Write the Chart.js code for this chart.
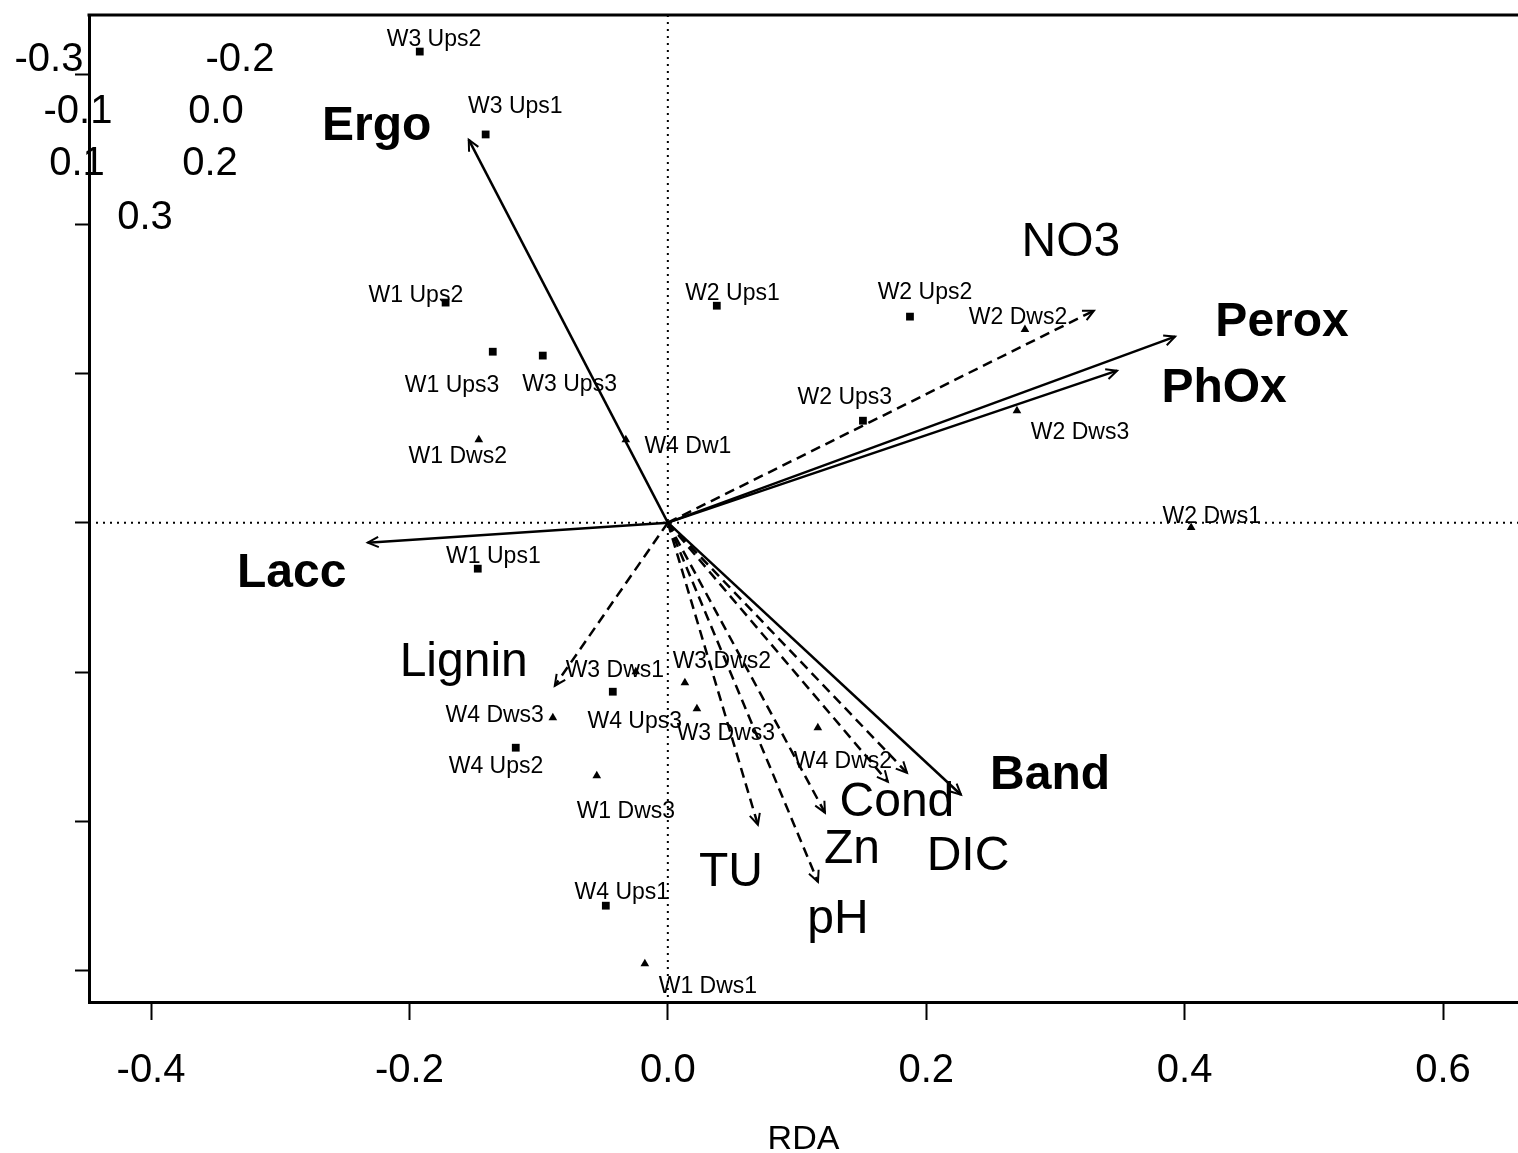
<!DOCTYPE html>
<html>
<head>
<meta charset="utf-8">
<title>RDA biplot</title>
<script src="https://cdn.jsdelivr.net/npm/chart.js@4/dist/chart.umd.min.js"></script>
<style>
  html, body { margin: 0; padding: 0; background: #fff; }
  #wrap { width: 1518px; height: 1153px; }
</style>
</head>
<body>
<div id="wrap"><canvas id="rda" width="1518" height="1153"></canvas></div>
<script>
// axis ticks
const xTicks = [-0.4, -0.2, 0.0, 0.2, 0.4, 0.6];
const yTicks = [-0.3, -0.2, -0.1, 0.0, 0.1, 0.2, 0.3];
const yTickLabels = ['-0.3', '-0.2', '-0.1', '0.0', '0.1', '0.2', '0.3'];

// site scores, upstream samples (squares)
const upsNames = ['W3 Ups2', 'W3 Ups1', 'W1 Ups2', 'W1 Ups3', 'W3 Ups3', 'W2 Ups1',
                  'W2 Ups2', 'W2 Ups3', 'W1 Ups1', 'W4 Ups3', 'W4 Ups2', 'W4 Ups1'];
const upsX = [-0.192, -0.141, -0.172, -0.1355, -0.0968, 0.0379,
              0.1874, 0.151, -0.1471, -0.0426, -0.1177, -0.048];
const upsY = [0.3155, 0.260, 0.1474, 0.1145, 0.1119, 0.1453,
              0.138, 0.0683, -0.0308, -0.1132, -0.1507, -0.2565];
const upsLabelX = [-0.181, -0.118, -0.195, -0.167, -0.076, 0.050,
                   0.199, 0.137, -0.135, -0.0256, -0.133, -0.0356];
const upsLabelY = [0.3235, 0.2786, 0.152, 0.0918, 0.0924, 0.1534,
                   0.154, 0.0837, -0.0228, -0.1333, -0.1634, -0.2478];

// site scores, downstream samples (triangles)
const dwsNames = ['W2 Dws2', 'W2 Dws3', 'W2 Dws1', 'W1 Dws2', 'W4 Dw1', 'W3 Dws1',
                  'W3 Dws2', 'W3 Dws3', 'W4 Dws3', 'W4 Dws2', 'W1 Dws3', 'W1 Dws1'];
const dwsX = [0.2764, 0.2702, 0.405, -0.1463, -0.0325, -0.0248,
              0.0132, 0.0225, -0.089, 0.1161, -0.055, -0.0178];
const dwsY = [0.1293, 0.075, -0.0033, 0.0556, 0.0556, -0.0998,
              -0.1072, -0.1246, -0.1306, -0.1373, -0.1695, -0.2954];
const dwsLabelX = [0.271, 0.319, 0.421, -0.1626, 0.0155, -0.041,
                   0.0418, 0.0449, -0.134, 0.1355, -0.0325, 0.031];
const dwsLabelY = [0.1373, 0.0603, 0.004, 0.0442, 0.0509, -0.0991,
                   -0.0931, -0.1413, -0.1293, -0.160, -0.1936, -0.3108];

// response variables (solid arrows, bold labels)
const respNames = ['Ergo', 'Perox', 'PhOx', 'Lacc', 'Band'];
const respX = [-0.1541, 0.3926, 0.3477, -0.2323, 0.2269];
const respY = [0.2565, 0.1246, 0.1018, -0.0134, -0.1822];
const respLabelX = [-0.2253, 0.4754, 0.4305, -0.2911, 0.2958];
const respLabelY = [0.2652, 0.134, 0.0898, -0.0342, -0.1695];

// environmental variables (dashed arrows)
const envNames = ['NO3', 'Lignin', 'TU', 'pH', 'Zn', 'Cond', 'DIC'];
const envX = [0.3298, -0.0875, 0.0697, 0.1162, 0.1216, 0.1703, 0.1851];
const envY = [0.142, -0.1092, -0.2023, -0.2405, -0.1942, -0.1735, -0.1675];
const envLabelX = [0.312, -0.158, 0.0488, 0.1316, 0.1425, 0.1773, 0.2323];
const envLabelY = [0.1875, -0.0938, -0.2344, -0.2659, -0.219, -0.1875, -0.2237];

const FONT = '"Liberation Sans", Arial, Helvetica, sans-serif';

// y tick labels sit in a jumbled block at the top left (pixel spots)
const yLabelSpots = [[49, 60], [240, 60], [78, 112], [216, 112], [77, 164], [210, 164], [145, 218]];

const pts = (xs, ys) => xs.map((x, i) => ({ x: x, y: ys[i] }));

const arrowSets = [];
respNames.forEach((n, i) => arrowSets.push({
  label: n, data: [{ x: 0, y: 0 }, { x: respX[i], y: respY[i] }],
  showLine: true, pointRadius: 0, borderColor: '#000', borderWidth: 2.5, arrow: true
}));
envNames.forEach((n, i) => arrowSets.push({
  label: n, data: [{ x: 0, y: 0 }, { x: envX[i], y: envY[i] }],
  showLine: true, pointRadius: 0, borderColor: '#000', borderWidth: 2.5,
  borderDash: [10, 6], arrow: true
}));

const biplot = {
  id: 'biplot',
  beforeDatasetsDraw(chart) {
    const { ctx, chartArea: a, scales: { x, y } } = chart;
    const x0 = x.getPixelForValue(0), y0 = y.getPixelForValue(0);
    ctx.save();
    ctx.strokeStyle = '#000';
    ctx.lineWidth = 2;
    ctx.setLineDash([2, 5]);
    ctx.beginPath();
    ctx.moveTo(x0, a.top); ctx.lineTo(x0, a.bottom);
    ctx.moveTo(a.left, y0); ctx.lineTo(a.right, y0);
    ctx.stroke();
    ctx.restore();
  },
  afterDatasetsDraw(chart) {
    const { ctx, chartArea: a, scales: { x, y } } = chart;
    ctx.save();
    // top frame line
    ctx.strokeStyle = '#000';
    ctx.lineWidth = 3;
    ctx.beginPath();
    ctx.moveTo(a.left - 1.5, a.top); ctx.lineTo(a.right, a.top);
    ctx.stroke();

    // open arrow heads
    ctx.lineWidth = 2;
    chart.data.datasets.forEach(ds => {
      if (!ds.arrow) return;
      const p0 = ds.data[0], p1 = ds.data[1];
      const ax = x.getPixelForValue(p0.x), ay = y.getPixelForValue(p0.y);
      const bx = x.getPixelForValue(p1.x), by = y.getPixelForValue(p1.y);
      const ang = Math.atan2(by - ay, bx - ax);
      const len = 12, spread = 0.45;
      ctx.beginPath();
      ctx.moveTo(bx - len * Math.cos(ang - spread), by - len * Math.sin(ang - spread));
      ctx.lineTo(bx, by);
      ctx.lineTo(bx - len * Math.cos(ang + spread), by - len * Math.sin(ang + spread));
      ctx.stroke();
    });

    ctx.fillStyle = '#000';
    ctx.textAlign = 'center';
    ctx.textBaseline = 'middle';

    // site labels
    ctx.font = '23px ' + FONT;
    upsNames.forEach((n, i) => ctx.fillText(n, x.getPixelForValue(upsLabelX[i]), y.getPixelForValue(upsLabelY[i])));
    dwsNames.forEach((n, i) => ctx.fillText(n, x.getPixelForValue(dwsLabelX[i]), y.getPixelForValue(dwsLabelY[i])));

    // variable labels
    ctx.font = 'bold 48px ' + FONT;
    respNames.forEach((n, i) => ctx.fillText(n, x.getPixelForValue(respLabelX[i]), y.getPixelForValue(respLabelY[i])));
    ctx.font = '48px ' + FONT;
    envNames.forEach((n, i) => ctx.fillText(n, x.getPixelForValue(envLabelX[i]), y.getPixelForValue(envLabelY[i])));

    // y tick labels
    ctx.font = '40px ' + FONT;
    yTickLabels.forEach((t, i) => ctx.fillText(t, yLabelSpots[i][0], yLabelSpots[i][1]));
    ctx.restore();
  }
};

new Chart(document.getElementById('rda'), {
  type: 'scatter',
  data: {
    datasets: [
      ...arrowSets,
      { label: 'Ups', data: pts(upsX, upsY), pointStyle: 'rect', pointRadius: 5.5,
        backgroundColor: '#000', borderColor: '#000', borderWidth: 0 },
      { label: 'Dws', data: pts(dwsX, dwsY), pointStyle: 'triangle', pointRadius: 5,
        backgroundColor: '#000', borderColor: '#000', borderWidth: 0 }
    ]
  },
  options: {
    responsive: false,
    animation: false,
    layout: { autoPadding: false, padding: { top: 15, right: 0, bottom: 0, left: 0 } },
    plugins: { legend: { display: false }, tooltip: { enabled: false } },
    scales: {
      x: {
        type: 'linear', min: -0.448, max: 0.658,
        afterBuildTicks: s => { s.ticks = xTicks.map(v => ({ value: v })); },
        afterFit: s => { s.height = 151; s.paddingLeft = 0; s.paddingRight = 0; },
        grid: { drawOnChartArea: false, drawTicks: true, tickLength: 18, tickWidth: 2, tickColor: '#000' },
        border: { display: true, color: '#000', width: 3 },
        ticks: { color: '#000', padding: 27, font: { family: FONT, size: 40 },
                 callback: v => v.toFixed(1) },
        title: { display: true, text: 'RDA', color: '#000', font: { family: FONT, size: 34 },
                 padding: { top: 0, bottom: -7 } }
      },
      y: {
        type: 'linear', min: -0.321, max: 0.340,
        afterBuildTicks: s => { s.ticks = yTicks.map(v => ({ value: v })); },
        afterFit: s => { s.width = 89; },
        grid: { drawOnChartArea: false, drawTicks: true, tickLength: 14, tickWidth: 2, tickColor: '#000' },
        border: { display: true, color: '#000', width: 3 },
        ticks: { display: false }
      }
    }
  },
  plugins: [biplot]
});
</script>
</body>
</html>
